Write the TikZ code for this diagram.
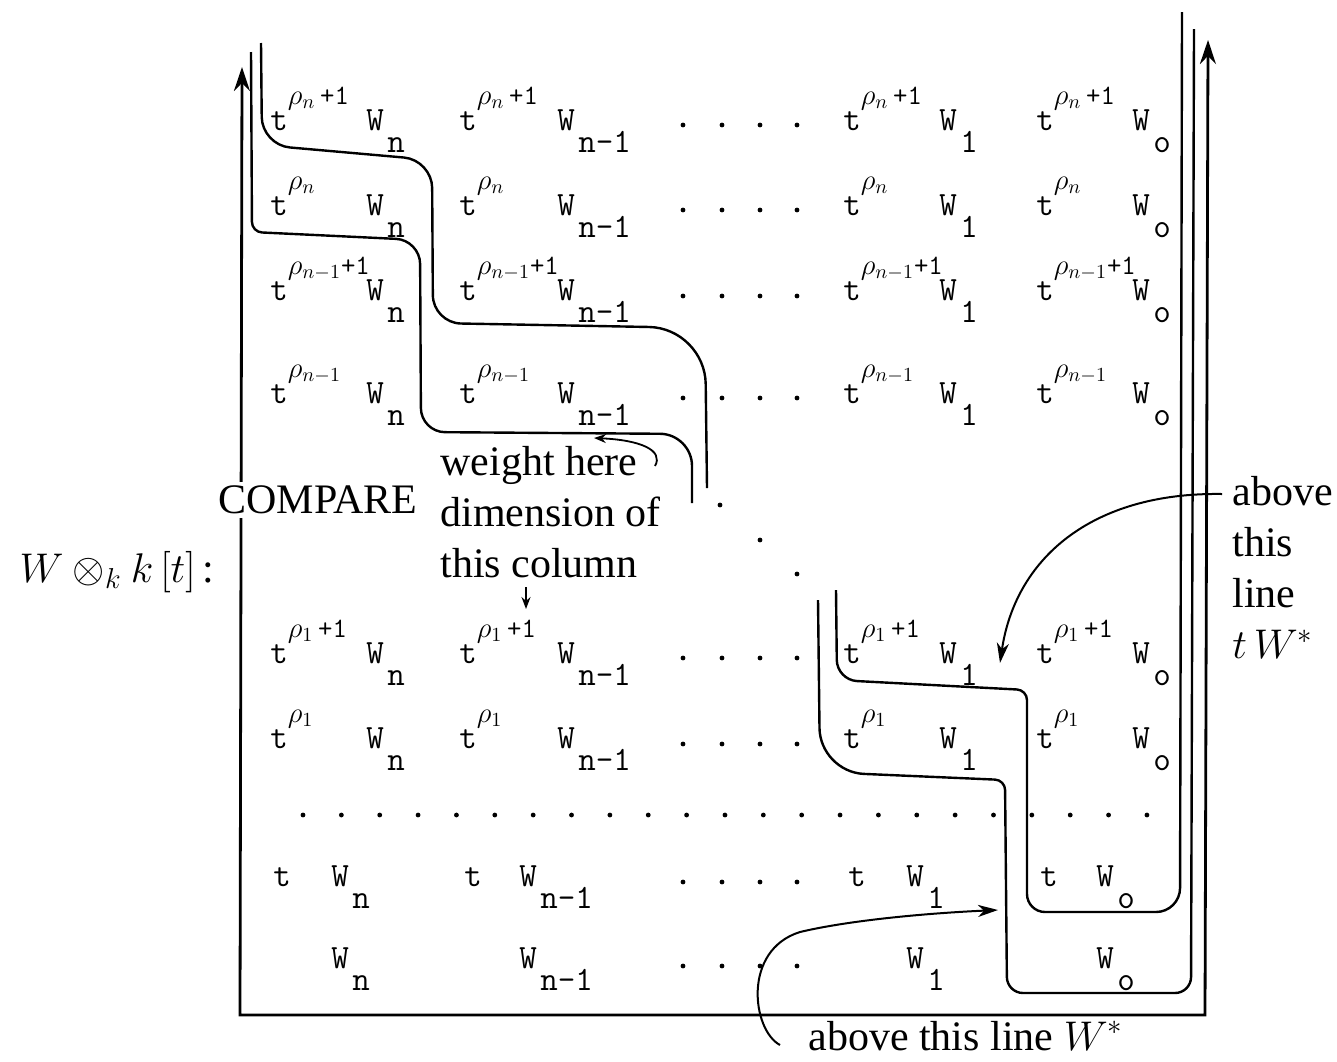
\documentclass[tikz,border=0pt]{standalone}
\usepackage{fontspec}
\setmainfont{Liberation Serif}
\usetikzlibrary{arrows.meta}

\newcommand{\tpow}[1]{t\raisebox{0.75em}{\fontsize{14}{16}\selectfont #1}}
\newcommand{\wsub}[1]{W\kern0.1em\raisebox{-0.65em}{#1}}

\begin{document}
\begin{tikzpicture}[
    x=0.5pt, y=-0.5pt,
    ent/.style={anchor=base west, inner sep=0pt, font=\fontsize{17}{19}\selectfont\ttfamily},
    lbl/.style={inner sep=0pt, align=left, font=\fontsize{21}{25.5}\selectfont},
    frame/.style={{Stealth[length=12pt, width=8pt, inset=4pt]}-{Stealth[length=12pt, width=8pt, inset=4pt]}, line width=1.4pt},
    stair/.style={line width=1.2pt},
    bigarr/.style={-{Stealth[length=10pt, width=6pt, inset=3pt]}, line width=1pt},
    smallarr/.style={-{Stealth[length=6pt, width=4.5pt, inset=2pt]}, line width=0.9pt}
]

\path[fill=white] (0,0) rectangle (1337,1061);
\useasboundingbox (0,0) rectangle (1337,1061);

% frame with both arrows pointing up
\draw[frame] (242,67) -- (240,1015) -- (1205,1015) -- (1208,40);

% entries t^{...} W_i
\foreach \y/\pw [count=\r] in {130/{$\rho_n$\,+1}, 215/{$\rho_n$}, 300/{$\rho_{n{-}1}$+1}, 403/{$\rho_{n{-}1}$}, 663/{$\rho_1$\,+1}, 748/{$\rho_1$}}
  \foreach \xt/\xw/\sb [count=\c] in {270/366/n, 459/557/n-1, 843/939/1, 1036/1132/o} {
    \node[ent] (t\r\c) at (\xt,\y) {\tpow{\pw}};
    \node[ent] (w\r\c) at (\xw,\y) {\wsub{\sb}};
  }
\foreach \xt/\xw/\sb [count=\c] in {273/331/n, 464/519/n-1, 848/906/1, 1040/1096/o} {
  \node[ent] (t7\c) at (\xt,886) {t};
  \node[ent] (w7\c) at (\xw,886) {\wsub{\sb}};
  \node[ent] (w8\c) at (\xw,968) {\wsub{\sb}};
}

% dots
\foreach \y in {125,210,296,398,658,744,882,966}
  \foreach \x in {683,722,760,797}
    \fill (\x,\y) circle (1.2pt);
\foreach \i in {0,...,22}
  \fill ({303+38.36*\i},815) circle (1.2pt);
\foreach \x/\y in {720/505, 760/540, 797/574}
  \fill (\x,\y) circle (1.2pt);

% line t W*
\draw[stair, rounded corners=14pt] (261,43) -- (262,145) -- (432,160) -- (433,323) [rounded corners=28pt] -- (705,328) -- (707,488);
\draw[stair, rounded corners=10pt] (836,590) -- (837,680) [rounded corners=5pt] -- (1027,690) [rounded corners=9pt] -- (1027,912) [rounded corners=12pt] -- (1180,912) -- (1182,12);

% line W*
\draw[stair, rounded corners=5pt] (251,52) -- (252,232) [rounded corners=12pt] -- (420,240) -- (421,432) [rounded corners=16pt] -- (692,434) -- (692,503);
\draw[stair, rounded corners=22pt] (818,600) -- (820,772) [rounded corners=5pt] -- (1005,780) [rounded corners=8pt] -- (1007,993) -- (1191,993) -- (1194,29);

% labels
\node[lbl, fill=white, inner sep=2pt] (compare) at (318,500) {COMPARE};
\node[lbl] (tensor) at (117,572) {$W \otimes_k k\,[t]$\,:};
\node[lbl, anchor=north west] (weight) at (440,446) {weight here\\dimension of\\this column};
\node[lbl, anchor=north west] (tline) at (1232,476) {above\\this\\line\\$t\,W^*$};
\node[lbl, anchor=base west] (wline) at (808,1050) {above this line $W^*$};

\coordinate (wtstart) at (655,466);
\coordinate (wttip) at (594,438);
\coordinate (colstart) at (526,587);
\coordinate (coltip) at (526,609);
\coordinate (tstart) at (1222,494);
\coordinate (ttip) at (1000,663);
\coordinate (wstart) at (780,1045);
\coordinate (wtip) at (998,910);

\draw[smallarr] (wtstart) .. controls (664,450) and (640,440) .. (wttip);
\draw[smallarr] (colstart) -- (coltip);
\draw[bigarr] (tstart) .. controls (1090,492) and (1015,560) .. (ttip);
\draw[bigarr] (wstart) .. controls (752,1030) and (742,950) .. (800,932) .. controls (850,920) and (930,913) .. (wtip);

\end{tikzpicture}
\end{document}
